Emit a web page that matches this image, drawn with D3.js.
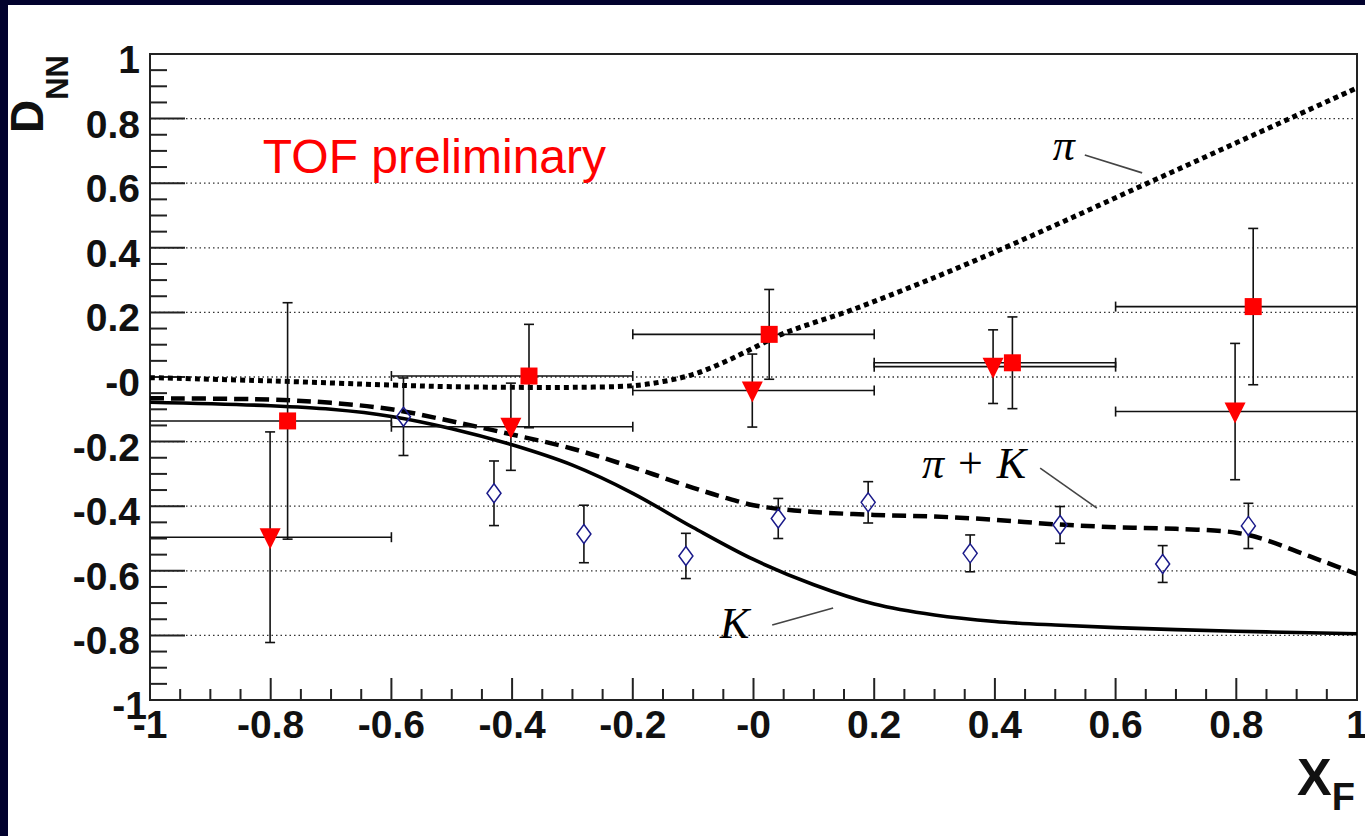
<!DOCTYPE html>
<html>
<head>
<meta charset="utf-8">
<script src="https://cdn.jsdelivr.net/npm/d3@7"></script>
<style>
  body { margin: 0; background: #fff; }
  svg { display: block; }
</style>
</head>
<body>
<svg id="chart" width="1365" height="836"></svg>
<script>
// bins shared by the two red series
var binLo = [-1, -0.6, -0.2, 0.2, 0.6];
var binHi = [-0.6, -0.2, 0.2, 0.6, 1.0];

// red squares
var sqX = [-0.772, -0.372, 0.026, 0.429, 0.828];
var sqY = [-0.136, 0.003, 0.132, 0.044, 0.218];
var sqErr = [0.366, 0.16, 0.139, 0.142, 0.242];

// red down triangles
var triX = [-0.801, -0.402, -0.002, 0.397, 0.798];
var triY = [-0.496, -0.154, -0.042, 0.032, -0.107];
var triErr = [0.326, 0.135, 0.113, 0.114, 0.211];

// open blue diamonds
var dmX = [-0.580, -0.430, -0.281, -0.112, 0.041, 0.190, 0.359, 0.508, 0.678, 0.820];
var dmY = [-0.123, -0.360, -0.486, -0.554, -0.438, -0.388, -0.546, -0.458, -0.579, -0.461];
var dmErr = [0.12, 0.10, 0.089, 0.07, 0.062, 0.064, 0.057, 0.057, 0.057, 0.07];

// model curves
var piX = [-1, -0.8, -0.6, -0.5, -0.4, -0.3, -0.2, -0.15, -0.1, -0.05, 0, 0.05, 0.1, 0.15, 0.2, 0.3, 0.4, 0.5, 0.6, 0.7, 0.8, 0.9, 1.0];
var piY = [-0.002, -0.012, -0.025, -0.03, -0.032, -0.032, -0.027, -0.014, 0.008, 0.045, 0.09, 0.135, 0.168, 0.199, 0.234, 0.308, 0.387, 0.47, 0.555, 0.64, 0.725, 0.81, 0.895];

var pkX = [-1, -0.8, -0.7, -0.6, -0.5, -0.4, -0.3, -0.2, -0.1, -0.05, 0, 0.05, 0.1, 0.2, 0.3, 0.4, 0.5, 0.6, 0.7, 0.8, 0.85, 0.9, 0.95, 1.0];
var pkY = [-0.066, -0.07, -0.08, -0.1, -0.137, -0.178, -0.222, -0.28, -0.343, -0.372, -0.397, -0.41, -0.418, -0.427, -0.432, -0.442, -0.456, -0.465, -0.47, -0.482, -0.505, -0.54, -0.575, -0.61];

var kX = [-1, -0.8, -0.7, -0.6, -0.5, -0.4, -0.3, -0.2, -0.1, 0, 0.1, 0.2, 0.3, 0.4, 0.5, 0.6, 0.7, 0.8, 0.9, 1.0];
var kY = [-0.078, -0.089, -0.1, -0.122, -0.16, -0.21, -0.273, -0.36, -0.466, -0.565, -0.643, -0.703, -0.737, -0.757, -0.768, -0.776, -0.782, -0.787, -0.791, -0.795];

// axis ticks
var xMajor = [-1, -0.8, -0.6, -0.4, -0.2, 0, 0.2, 0.4, 0.6, 0.8, 1];
var xLabels = ["-1", "-0.8", "-0.6", "-0.4", "-0.2", "-0", "0.2", "0.4", "0.6", "0.8", "1"];
var yMajor = [1, 0.8, 0.6, 0.4, 0.2, 0, -0.2, -0.4, -0.6, -0.8, -1];
var yLabels = ["1", "0.8", "0.6", "0.4", "0.2", "-0", "-0.2", "-0.4", "-0.6", "-0.8", "-1"];
var yGrid = [0.8, 0.6, 0.4, 0.2, 0, -0.2, -0.4, -0.6, -0.8];

var svg = d3.select('#chart');
var W = 1365, H = 836;
var L = 150, R = 1357, T = 54, B = 700;

var x = d3.scaleLinear().domain([-1, 1]).range([L, R]);
var y = d3.scaleLinear().domain([-1, 1]).range([B, T]);

// slide background
svg.append('rect').attr('width', W).attr('height', H).attr('fill', '#02022e');
svg.append('rect').attr('x', 8).attr('y', 5).attr('width', W - 8).attr('height', H - 5).attr('fill', '#fff');

// grid
svg.append('g').selectAll('line').data(yGrid).enter().append('line')
  .attr('x1', L).attr('x2', R)
  .attr('y1', function (d) { return y(d); }).attr('y2', function (d) { return y(d); })
  .attr('stroke', '#333').attr('stroke-width', 1.3).attr('stroke-dasharray', '1.5,3');

// ticks, 0.05 apart, longer on the 0.2 steps
var minor = d3.range(-1, 1.0001, 0.05);
var ticks = svg.append('g').attr('stroke', '#222').attr('stroke-width', 2);
ticks.selectAll('.yt').data(minor).enter().append('line')
  .attr('x1', L).attr('x2', function (d) { return L + (isMajor(d) ? 35 : 17); })
  .attr('y1', function (d) { return y(d); }).attr('y2', function (d) { return y(d); });
ticks.selectAll('.xt').data(minor).enter().append('line')
  .attr('y1', B).attr('y2', function (d) { return B - (isMajor(d) ? 22 : 11); })
  .attr('x1', function (d) { return x(d); }).attr('x2', function (d) { return x(d); });

function isMajor(d) {
  return Math.abs(d * 5 - Math.round(d * 5)) < 1e-6;
}

// frame
svg.append('rect').attr('x', L).attr('y', T).attr('width', R - L).attr('height', B - T)
  .attr('fill', 'none').attr('stroke', '#222').attr('stroke-width', 2);

// tick labels
var lab = svg.append('g').attr('font-family', '"Liberation Sans", Arial, Helvetica, sans-serif')
  .attr('font-weight', 'bold').attr('font-size', 39).attr('fill', '#111');
lab.selectAll('.yl').data(yMajor).enter().append('text')
  .attr('x', function (d) { return d === -1 ? L - 3 : L - 10; })
  .attr('y', function (d) { return y(d) + 19; })
  .attr('text-anchor', 'end')
  .text(function (d, i) { return yLabels[i]; });
lab.selectAll('.xl').data(xMajor).enter().append('text')
  .attr('x', function (d) { return x(d); })
  .attr('y', B + 38)
  .attr('text-anchor', 'middle')
  .text(function (d, i) { return xLabels[i]; });

// axis titles
var yt = svg.append('text').attr('transform', 'translate(43,133) rotate(-90)')
  .attr('font-family', '"Liberation Sans", Arial, sans-serif').attr('font-weight', 'bold').attr('fill', '#111');
yt.append('tspan').attr('font-size', 46).text('D');
yt.append('tspan').attr('font-size', 31).attr('dy', 25).text('NN');

var xt = svg.append('text').attr('x', 1297).attr('y', 795)
  .attr('font-family', '"Liberation Sans", Arial, sans-serif').attr('font-weight', 'bold').attr('fill', '#111');
xt.append('tspan').attr('font-size', 52).text('X');
xt.append('tspan').attr('font-size', 38).attr('dy', 15).text('F');

// TOF preliminary
svg.append('text').attr('x', x(-0.813)).attr('y', y(0.632))
  .attr('font-family', '"Liberation Sans", Arial, sans-serif').attr('font-size', 48)
  .attr('fill', '#ff0000').text('TOF preliminary');

// curves
var clip = svg.append('clipPath').attr('id', 'clip');
clip.append('rect').attr('x', L).attr('y', T).attr('width', R - L).attr('height', B - T);

function drawCurve(xs, ys, width, dash) {
  var line = d3.line()
    .x(function (d) { return x(d[0]); })
    .y(function (d) { return y(d[1]); })
    .curve(d3.curveCatmullRom.alpha(0.5));
  svg.append('path').datum(d3.zip(xs, ys))
    .attr('d', line).attr('fill', 'none').attr('stroke', '#000')
    .attr('stroke-width', width).attr('stroke-dasharray', dash)
    .attr('clip-path', 'url(#clip)');
}
drawCurve(kX, kY, 3.6, null);
drawCurve(pkX, pkY, 4.5, '14,7');
drawCurve(piX, piY, 5, '5,4');

// curve labels and leaders
var labelFont = '"Liberation Serif", "Times New Roman", serif';
svg.append('text').attr('x', x(0.496)).attr('y', y(0.672))
  .attr('font-family', labelFont).attr('font-style', 'italic').attr('font-size', 44).text('π');
var pk = svg.append('text').attr('x', x(0.279)).attr('y', y(-0.313))
  .attr('font-family', labelFont).attr('font-size', 44);
pk.append('tspan').attr('font-style', 'italic').text('π');
pk.append('tspan').attr('dx', 14).text('+');
pk.append('tspan').attr('dx', 14).attr('font-style', 'italic').text('K');
svg.append('text').attr('x', x(-0.0555)).attr('y', y(-0.808))
  .attr('font-family', labelFont).attr('font-style', 'italic').attr('font-size', 44).text('K');

var leaders = [
  [0.549, 0.687, 0.644, 0.632],
  [0.475, -0.282, 0.569, -0.406],
  [0.031, -0.768, 0.132, -0.715]
];
svg.append('g').selectAll('line').data(leaders).enter().append('line')
  .attr('x1', function (d) { return x(d[0]); }).attr('y1', function (d) { return y(d[1]); })
  .attr('x2', function (d) { return x(d[2]); }).attr('y2', function (d) { return y(d[3]); })
  .attr('stroke', '#444').attr('stroke-width', 1.6);

// error bars
function drawErrors(xs, ys, errs, lo, hi, gap) {
  var g = svg.append('g').attr('stroke', '#111').attr('stroke-width', 1.6).attr('fill', 'none');
  xs.forEach(function (xv, i) {
    var cx = x(xv), cy = y(ys[i]);
    var top = y(ys[i] + errs[i]), bot = y(ys[i] - errs[i]);
    g.append('line').attr('x1', cx).attr('x2', cx).attr('y1', top).attr('y2', cy - gap);
    g.append('line').attr('x1', cx).attr('x2', cx).attr('y1', cy + gap).attr('y2', bot);
    g.append('line').attr('x1', cx - 5).attr('x2', cx + 5).attr('y1', top).attr('y2', top);
    g.append('line').attr('x1', cx - 5).attr('x2', cx + 5).attr('y1', bot).attr('y2', bot);
    if (lo) {
      var l = x(lo[i]), r = x(hi[i]);
      g.append('line').attr('x1', l).attr('x2', r).attr('y1', cy).attr('y2', cy);
      if (lo[i] > -1) g.append('line').attr('x1', l).attr('x2', l).attr('y1', cy - 5).attr('y2', cy + 5);
      if (hi[i] < 1) g.append('line').attr('x1', r).attr('x2', r).attr('y1', cy - 5).attr('y2', cy + 5);
    }
  });
}
drawErrors(dmX, dmY, dmErr, null, null, 9);
drawErrors(triX, triY, triErr, binLo, binHi, 0);
drawErrors(sqX, sqY, sqErr, binLo, binHi, 0);

// markers
svg.append('g').selectAll('path').data(dmX).enter().append('path')
  .attr('transform', function (d, i) { return 'translate(' + x(d) + ',' + y(dmY[i]) + ')'; })
  .attr('d', 'M0,-9.5L7,0L0,9.5L-7,0Z')
  .attr('fill', 'none').attr('stroke', '#1a1a8a').attr('stroke-width', 1.5);

svg.append('g').selectAll('path').data(triX).enter().append('path')
  .attr('transform', function (d, i) { return 'translate(' + x(d) + ',' + y(triY[i]) + ')'; })
  .attr('d', 'M-10.5,-9L10.5,-9L0,12Z')
  .attr('fill', '#f00');

svg.append('g').selectAll('rect').data(sqX).enter().append('rect')
  .attr('x', function (d) { return x(d) - 8.5; })
  .attr('y', function (d, i) { return y(sqY[i]) - 8.5; })
  .attr('width', 17).attr('height', 17)
  .attr('fill', '#f00');
</script>
</body>
</html>
